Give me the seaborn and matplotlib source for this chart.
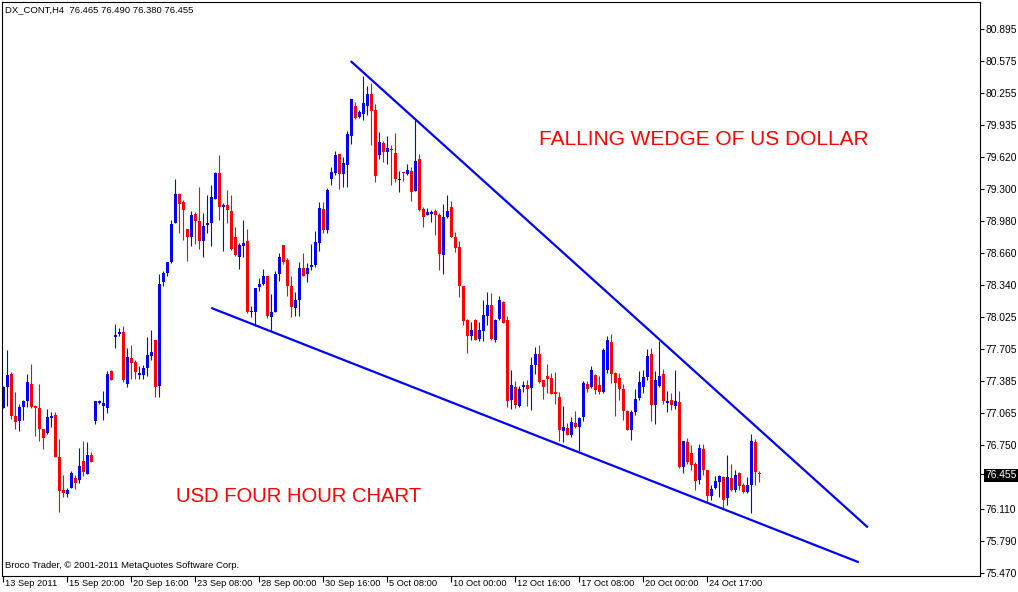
import numpy as np
import pandas as pd
import matplotlib
matplotlib.use("Agg")
import matplotlib.pyplot as plt
import matplotlib.transforms as mtransforms
import seaborn as sns

# DX_CONT H4 candles, 13 Sep 2011 - 25 Oct 2011
opens = [77.12, 77.32, 77.45, 77.04, 76.99, 77.13, 77.19, 77.35, 77.13, 77.12,
         76.91, 76.87, 77.02, 77.05, 76.63, 76.30, 76.26, 76.32, 76.42, 76.40,
         76.59, 76.46, 76.65, 76.99, 77.17, 77.14, 77.12, 77.48, 77.82, 77.85,
         77.87, 77.35, 77.61, 77.57, 77.44, 77.44, 77.51, 77.63, 77.79, 77.33,
         78.37, 78.46, 78.57, 78.96, 79.25, 79.17, 78.90, 78.82, 79.05, 78.98,
         78.78, 78.94, 78.96, 79.20, 79.46, 79.12, 79.14, 79.08, 78.82, 78.62,
         78.73, 78.78, 78.07, 78.07, 78.32, 78.35, 78.43, 78.02, 78.07, 78.45,
         78.74, 78.59, 78.33, 78.11, 78.19, 78.51, 78.45, 78.52, 78.54, 78.76,
         79.10, 78.89, 79.40, 79.46, 79.65, 79.45, 79.54, 79.83, 80.13, 80.02,
         80.05, 80.13, 80.25, 80.09, 79.64, 79.76, 79.67, 79.70, 79.66, 79.39,
         79.47, 79.45, 79.48, 79.28, 79.60, 79.10, 79.04, 79.05, 79.08, 79.04,
         78.64, 79.02, 79.12, 78.82, 78.72, 78.33, 77.99, 77.83, 77.99, 77.80,
         77.88, 78.03, 78.14, 77.79, 78.00, 78.17, 77.99, 77.20, 77.32, 77.14,
         77.32, 77.34, 77.31, 77.54, 77.65, 77.39, 77.43, 77.41, 77.27, 77.23,
         76.89, 76.92, 76.85, 76.97, 76.93, 77.03, 77.35, 77.32, 77.44, 77.34,
         77.27, 77.49, 77.77, 77.46, 77.41, 77.30, 77.09, 76.90, 77.08, 77.22,
         77.32, 77.42, 77.65, 77.15, 77.33, 77.45, 77.17, 77.20, 77.14, 77.18,
         76.53, 76.78, 76.67, 76.56, 76.40, 76.71, 76.50, 76.24, 76.32, 76.38,
         76.43, 76.22, 76.42, 76.30, 76.47, 76.35, 76.28, 76.35, 76.78, 76.465]
highs = [77.33, 77.69, 77.47, 77.27, 77.16, 77.20, 77.45, 77.55, 77.15, 77.35,
         76.91, 77.11, 77.08, 77.08, 76.81, 76.45, 76.32, 76.49, 76.45, 76.72,
         76.79, 76.78, 76.68, 77.19, 77.20, 77.28, 77.48, 77.49, 77.95, 77.91,
         77.93, 77.71, 77.74, 77.59, 77.53, 77.54, 77.82, 77.89, 77.79, 78.45,
         78.48, 78.57, 78.99, 79.40, 79.26, 79.19, 78.90, 79.08, 79.07, 79.32,
         79.06, 79.24, 79.34, 79.47, 79.64, 79.16, 79.29, 79.24, 78.92, 78.76,
         78.99, 78.90, 78.13, 78.31, 78.41, 78.50, 78.43, 78.25, 78.48, 78.66,
         78.74, 78.61, 78.43, 78.27, 78.57, 78.66, 78.56, 78.75, 78.88, 79.17,
         79.17, 79.31, 79.52, 79.68, 79.65, 79.62, 79.88, 80.20, 80.17, 80.09,
         80.43, 80.33, 80.36, 80.15, 79.87, 79.78, 79.83, 79.74, 79.86, 79.48,
         79.47, 79.55, 79.52, 79.99, 79.65, 79.12, 79.11, 79.09, 79.10, 79.06,
         79.15, 79.24, 79.18, 78.87, 78.78, 78.33, 78.00, 77.97, 78.00, 77.97,
         78.19, 78.27, 78.26, 78.00, 78.23, 78.18, 78.03, 77.49, 77.38, 77.33,
         77.38, 77.39, 77.62, 77.72, 77.74, 77.39, 77.55, 77.46, 77.47, 77.27,
         77.14, 76.97, 77.03, 77.09, 77.03, 77.38, 77.38, 77.53, 77.45, 77.43,
         77.71, 77.83, 77.85, 77.47, 77.46, 77.35, 77.10, 77.10, 77.30, 77.48,
         77.49, 77.70, 77.71, 77.48, 77.78, 77.50, 77.28, 77.26, 77.49, 77.28,
         76.79, 76.82, 76.75, 76.58, 76.76, 76.76, 76.50, 76.35, 76.44, 76.45,
         76.44, 76.65, 76.56, 76.50, 76.48, 76.37, 76.43, 76.86, 76.81, 76.490]
lows = [77.12, 77.14, 77.01, 76.91, 76.89, 77.00, 77.13, 77.12, 76.84, 76.79,
        76.71, 76.86, 76.93, 76.63, 76.08, 76.23, 76.23, 76.32, 76.31, 76.37,
        76.44, 76.46, 76.58, 76.96, 77.16, 77.00, 77.07, 77.39, 77.71, 77.83,
        77.37, 77.32, 77.40, 77.40, 77.40, 77.40, 77.43, 77.59, 77.23, 77.23,
        78.33, 78.43, 78.56, 78.96, 78.86, 78.79, 78.58, 78.73, 78.75, 78.70,
        78.62, 78.86, 78.73, 79.20, 78.99, 78.68, 78.96, 78.69, 78.63, 78.50,
        78.62, 78.06, 78.02, 77.93, 78.28, 78.34, 78.01, 77.89, 78.07, 78.38,
        78.55, 78.23, 78.02, 78.03, 78.03, 78.43, 78.37, 78.49, 78.52, 78.68,
        78.86, 78.86, 79.34, 79.44, 79.30, 79.32, 79.32, 79.75, 80.00, 80.01,
        79.99, 80.04, 79.74, 79.37, 79.60, 79.57, 79.55, 79.34, 79.37, 79.27,
        79.38, 79.44, 79.18, 79.28, 79.08, 78.92, 79.04, 78.97, 78.84, 78.49,
        78.45, 79.01, 78.82, 78.67, 78.22, 77.94, 77.66, 77.79, 77.79, 77.78,
        77.78, 77.94, 77.79, 77.77, 77.99, 77.96, 77.13, 77.11, 77.12, 77.13,
        77.27, 77.14, 77.10, 77.45, 77.36, 77.21, 77.26, 77.25, 77.16, 76.79,
        76.78, 76.85, 76.83, 76.92, 76.69, 76.99, 77.27, 77.31, 77.25, 77.25,
        77.26, 77.46, 77.36, 77.04, 77.20, 77.00, 76.90, 76.80, 77.05, 77.20,
        77.26, 77.39, 76.99, 76.96, 77.32, 77.16, 77.08, 77.10, 77.11, 76.52,
        76.47, 76.56, 76.50, 76.30, 76.36, 76.45, 76.18, 76.20, 76.31, 76.23,
        76.12, 76.15, 76.29, 76.28, 76.30, 76.27, 76.27, 76.07, 76.35, 76.380]
closes = [77.32, 77.44, 77.04, 76.98, 77.13, 77.19, 77.37, 77.13, 77.12, 76.91,
          76.82, 77.03, 77.03, 76.63, 76.29, 76.27, 76.30, 76.47, 76.37, 76.54,
          76.48, 76.65, 76.58, 77.19, 77.19, 77.17, 77.45, 77.39, 77.84, 77.87,
          77.39, 77.62, 77.56, 77.47, 77.46, 77.51, 77.64, 77.67, 77.32, 78.35,
          78.46, 78.57, 78.95, 79.25, 79.15, 79.09, 78.82, 79.04, 78.98, 78.78,
          78.93, 78.96, 79.22, 79.46, 79.12, 79.14, 79.09, 78.70, 78.64, 78.74,
          78.76, 78.07, 78.08, 78.31, 78.35, 78.43, 78.03, 78.07, 78.45, 78.62,
          78.57, 78.33, 78.12, 78.19, 78.51, 78.43, 78.51, 78.54, 78.77, 79.11,
          78.89, 79.29, 79.47, 79.64, 79.45, 79.56, 79.85, 80.20, 80.01, 80.07,
          80.16, 80.25, 80.08, 79.43, 79.77, 79.67, 79.71, 79.69, 79.40, 79.40,
          79.46, 79.49, 79.27, 79.58, 79.09, 79.02, 79.07, 79.07, 79.04, 78.65,
          79.02, 79.08, 78.82, 78.71, 78.33, 77.98, 77.83, 77.89, 77.79, 77.89,
          78.04, 78.14, 77.80, 77.99, 78.19, 77.96, 77.19, 77.34, 77.15, 77.30,
          77.34, 77.30, 77.54, 77.65, 77.37, 77.32, 77.40, 77.25, 77.25, 76.90,
          76.93, 76.85, 76.98, 76.93, 77.02, 77.36, 77.30, 77.49, 77.29, 77.27,
          77.69, 77.79, 77.45, 77.36, 77.30, 77.09, 76.90, 77.08, 77.21, 77.37,
          77.42, 77.63, 77.15, 77.39, 77.43, 77.19, 77.19, 77.15, 77.19, 76.53,
          76.79, 76.58, 76.55, 76.39, 76.72, 76.50, 76.24, 76.31, 76.39, 76.44,
          76.20, 76.43, 76.30, 76.45, 76.34, 76.28, 76.35, 76.79, 76.48, 76.455]

# time axis labels, one every 16 bars
x_labels = ["13 Sep 2011", "15 Sep 20:00", "20 Sep 16:00", "23 Sep 08:00",
            "28 Sep 00:00", "30 Sep 16:00", "5 Oct 08:00", "10 Oct 00:00",
            "12 Oct 16:00", "17 Oct 08:00", "20 Oct 00:00", "24 Oct 17:00"]
# price scale
y_labels = ["75.470", "75.790", "76.110", "76.455", "76.750", "77.065", "77.385",
            "77.705", "78.025", "78.340", "78.660", "78.980", "79.300", "79.620",
            "79.935", "80.255", "80.575", "80.895"]
last_price = "76.455"

# wedge trend lines (bar index, price)
upper_bars = [87, 216]
upper_prices = [80.57, 75.93]
lower_bars = [52.2, 213.7]
lower_prices = [78.11, 75.58]

df = pd.DataFrame({"open": opens, "high": highs, "low": lows, "close": closes})
df["bar"] = np.arange(len(df))
df["color"] = np.where(df["close"] >= df["open"], "#0000FF", "#FF0000")
df["body_low"] = df[["open", "close"]].min(axis=1)
df["body_h"] = (df["close"] - df["open"]).abs().clip(lower=0.012)

trend = pd.DataFrame({
    "bar": upper_bars + lower_bars,
    "price": upper_prices + lower_prices,
    "line": ["upper", "upper", "lower", "lower"],
})

sns.set_theme(style="white")
plt.rcParams["font.family"] = ["Liberation Sans", "DejaVu Sans"]

W, H = 1018, 592
fig = plt.figure(figsize=(W / 100, H / 100), dpi=100)
fig.patch.set_facecolor("white")
left_px, right_px, top_px, bottom_px = 2.3, 980, 2, 575.5
ax = fig.add_axes([left_px / W, 1 - bottom_px / H,
                   (right_px - left_px) / W, (bottom_px - top_px) / H])
ax.set_facecolor("white")

# candles
ax.vlines(df["bar"], df["low"], df["high"], colors=df["color"], linewidth=0.8)
ax.bar(df["bar"], df["body_h"], bottom=df["body_low"], width=0.78,
       color=df["color"], edgecolor="none", linewidth=0)

# wedge lines
sns.lineplot(data=trend, x="bar", y="price", units="line", estimator=None,
             color="#0000FF", linewidth=1.6, ax=ax, legend=False)

ax.set_xlim(-0.25, 244.2)
ax.set_ylim(75.445, 81.164)
ax.set_xlabel("")
ax.set_ylabel("")

for s in ax.spines.values():
    s.set_visible(True)
    s.set_color("black")
    s.set_linewidth(0.8)

# price axis on the right
ax.yaxis.tick_right()
ax.set_yticks([float(v) for v in y_labels])
ax.set_yticklabels(y_labels)
ax.tick_params(axis="y", which="both", right=True, left=False, direction="out",
               length=3, width=0.8, color="black", labelsize=7.4, pad=1.0,
               labelcolor="black")
for lbl in ax.get_yticklabels():
    if lbl.get_text() == last_price:
        lbl.set_color("white")
        lbl.set_bbox(dict(facecolor="black", edgecolor="none", pad=1.2))

# time axis
ax.set_xticks(np.arange(len(x_labels)) * 16)
ax.set_xticklabels(x_labels)
ax.tick_params(axis="x", which="both", bottom=True, direction="out", length=4,
               width=0.8, color="black", labelsize=6.7, pad=-1.5,
               labelcolor="black")
offset = mtransforms.ScaledTranslation(1.5 / 100, 0, fig.dpi_scale_trans)
for lbl in ax.get_xticklabels():
    lbl.set_horizontalalignment("left")
    lbl.set_transform(lbl.get_transform() + offset)

# annotations
ax.text(133.9, 79.79, "FALLING WEDGE OF US DOLLAR", color="#FF0000",
        fontsize=15.0, ha="left", va="center")
ax.text(43.2, 76.23, "USD FOUR HOUR CHART", color="#FF0000",
        fontsize=14.6, ha="left", va="center")

fig.text(5 / W, 1 - 10 / H, "DX_CONT,H4  76.465 76.490 76.380 76.455",
         fontsize=6.8, color="black", ha="left", va="center")
fig.text(5 / W, 1 - 566 / H, "Broco Trader, \u00a9 2001-2011 MetaQuotes Software Corp.",
         fontsize=6.8, color="black", ha="left", va="center")

fig.savefig("out.png", dpi=100, facecolor="white")
